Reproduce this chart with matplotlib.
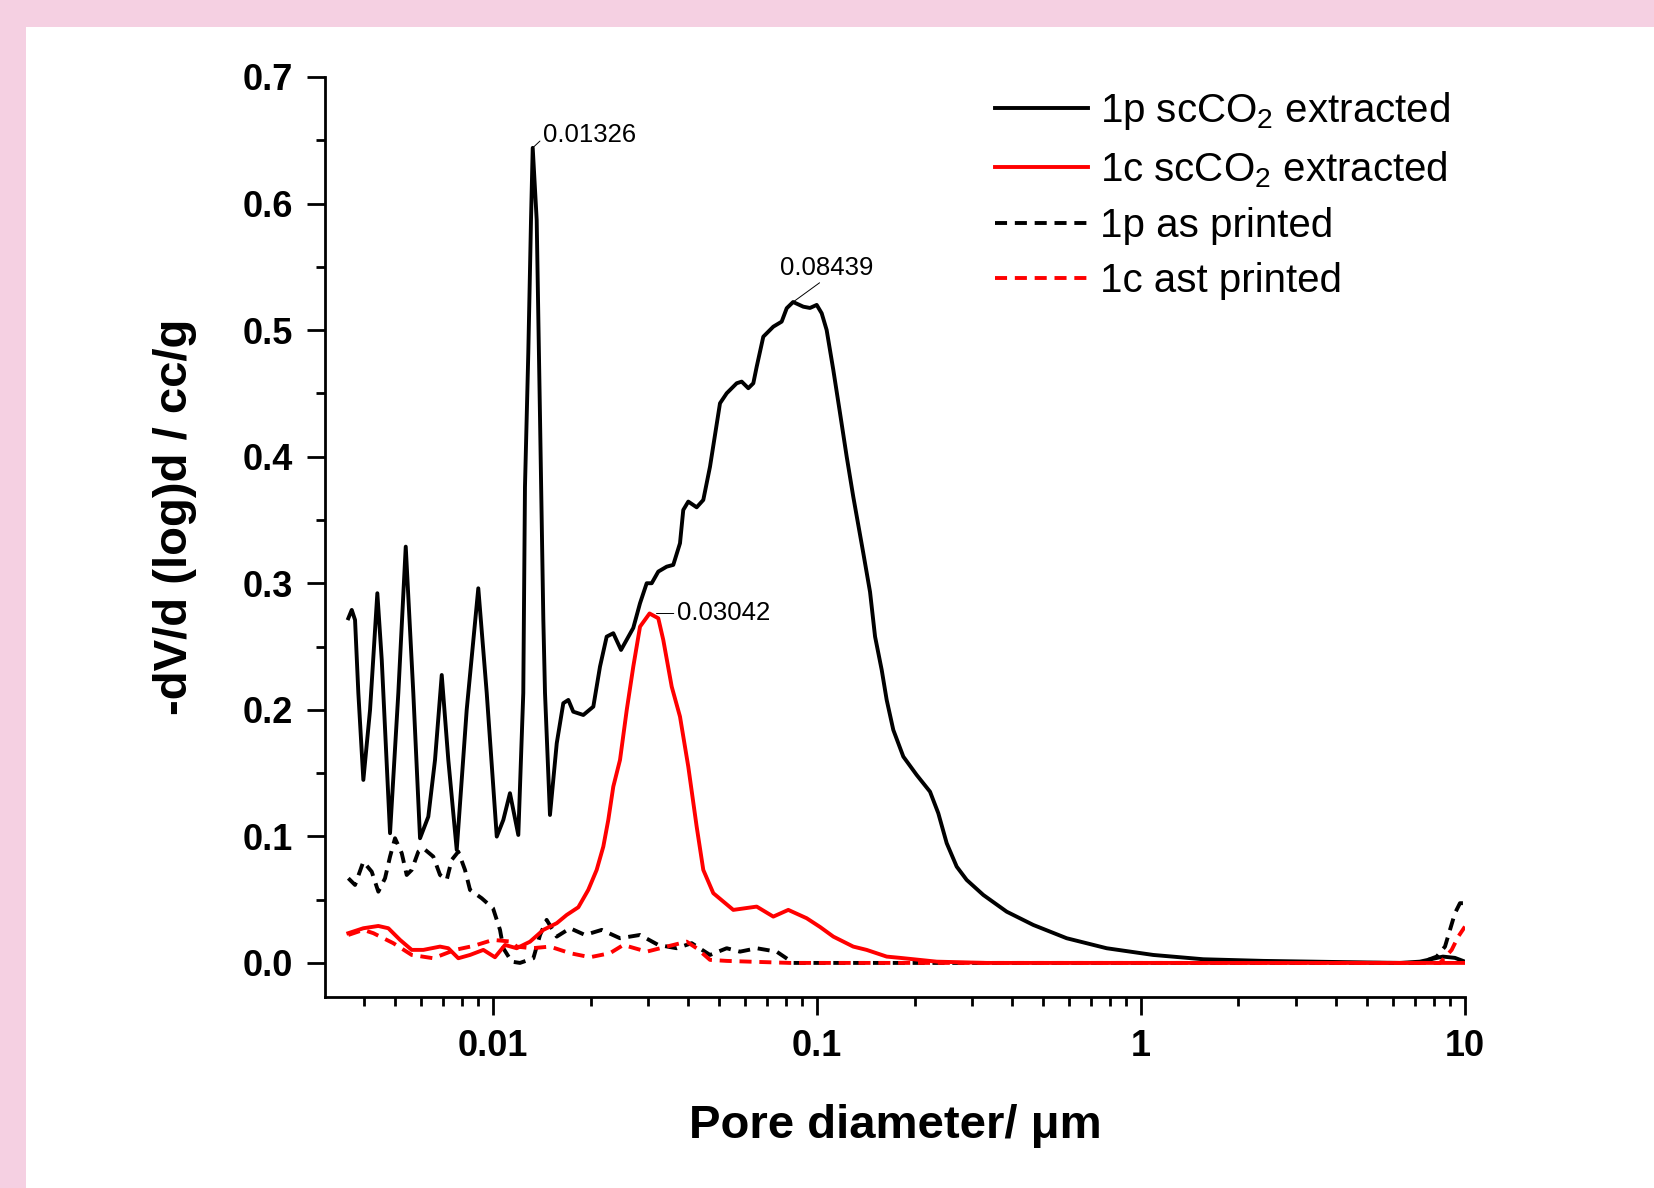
''' ########################### OVERVIEW ########################### '''
'''
Pore size distribution (MIP) of 1p / 1c parts, scCO2 extracted vs as printed
'''

''' ########################### IMPORT MODULES ########################### '''
import numpy as np
import matplotlib
matplotlib.use('Agg')
import matplotlib.pyplot as plt
from matplotlib.patches import Rectangle
from matplotlib.ticker import MultipleLocator, LogLocator, NullFormatter


''' ########################### DATA ########################### '''
# pore diameter (um) and -dV/d(log d) (cc/g)
d_1p_sc = [0.003576, 0.003664, 0.003751, 0.00384, 0.003979, 0.004173, 0.004395,
           0.004535, 0.00481, 0.005102, 0.005378, 0.005675, 0.005953, 0.006314,
           0.006622, 0.006946, 0.007278, 0.007727, 0.008294, 0.009007, 0.009563,
           0.01027, 0.01076, 0.01128, 0.01197, 0.0124, 0.01255, 0.01285, 0.0131,
           0.01326, 0.01364, 0.01397, 0.0143, 0.01447, 0.01499, 0.01573, 0.01648,
           0.01708, 0.01769, 0.019, 0.0204, 0.02139, 0.02243, 0.02351, 0.02484,
           0.0271, 0.02843, 0.02981, 0.03089, 0.03237, 0.03436, 0.03601, 0.03777,
           0.03866, 0.04006, 0.04252, 0.04457, 0.04675, 0.05019, 0.05264, 0.05651,
           0.05855, 0.06138, 0.0636, 0.06515, 0.06828, 0.0733, 0.0778, 0.08065,
           0.08439, 0.09073, 0.09515, 0.0998, 0.1034, 0.1071, 0.1123, 0.1178,
           0.1235, 0.1294, 0.139, 0.1458, 0.1511, 0.1584, 0.1641, 0.172, 0.1847,
           0.2031, 0.2233, 0.2368, 0.2514, 0.2699, 0.2897, 0.3261, 0.385, 0.4652,
           0.5898, 0.7837, 1.091, 1.557, 2.385, 3.83, 6.3, 7.26, 8.55, 9.31, 10.0]
v_1p_sc = [0.2723, 0.2789, 0.2710, 0.2133, 0.1446, 0.1999, 0.2921,
           0.2394, 0.1025, 0.2133, 0.3289, 0.2133, 0.0985, 0.1156,
           0.1604, 0.2275, 0.1604, 0.0893, 0.1999, 0.2960, 0.2133,
           0.0998, 0.1130, 0.1341, 0.1011, 0.2133, 0.3761, 0.4819, 0.587,
           0.644, 0.587, 0.429, 0.271, 0.2133, 0.1169, 0.1736, 0.2052,
           0.2078, 0.1985, 0.1959, 0.2025, 0.2341, 0.2578, 0.2605, 0.2473,
           0.2647, 0.2842, 0.300, 0.300, 0.3092, 0.3131, 0.3145, 0.3316,
           0.3579, 0.3645, 0.360, 0.3658, 0.3921, 0.4422, 0.4501, 0.458,
           0.4593, 0.4541, 0.458, 0.4711, 0.4948, 0.5027, 0.5067, 0.5173,
           0.5222, 0.5185, 0.5175, 0.5199, 0.5133, 0.5001, 0.4685, 0.4343,
           0.400, 0.3684, 0.3237, 0.2931, 0.2578, 0.2315, 0.2078, 0.1841, 0.163,
           0.1485, 0.1353, 0.1183, 0.0946, 0.0761, 0.0656, 0.0537, 0.0405, 0.030,
           0.0195, 0.0116, 0.0063, 0.0029, 0.0016, 0.0008, 0.0, 0.001, 0.005, 0.004, 0.001]

d_1c_sc = [0.003576, 0.003979, 0.004426, 0.004753, 0.005164, 0.005612, 0.006095,
           0.006862, 0.007278, 0.007815, 0.008492, 0.009335, 0.01014, 0.01089,
           0.01183, 0.01301, 0.0143, 0.01573, 0.01688, 0.01834, 0.01968, 0.02089,
           0.0219, 0.02269, 0.02351, 0.02466, 0.02587, 0.0271, 0.02843, 0.03042,
           0.03237, 0.03354, 0.03561, 0.03777, 0.04006, 0.04252, 0.04457, 0.04786,
           0.05516, 0.06515, 0.0733, 0.08155, 0.09294, 0.1022, 0.1123, 0.1294,
           0.1423, 0.1641, 0.1804, 0.2342, 0.334, 10.0]
v_1c_sc = [0.0235, 0.0274, 0.0292, 0.0274, 0.0182, 0.0103, 0.0103,
           0.0129, 0.0116, 0.0037, 0.0063, 0.0103, 0.0045, 0.0142,
           0.0116, 0.0168, 0.0261, 0.0314, 0.0379, 0.044, 0.0577, 0.0735,
           0.0919, 0.113, 0.1393, 0.1604, 0.1999, 0.2341, 0.2657, 0.2761,
           0.2723, 0.2552, 0.2183, 0.1946, 0.1551, 0.1077, 0.0735, 0.0551,
           0.0419, 0.0445, 0.0366, 0.0419, 0.0353, 0.0284, 0.0208, 0.0129,
           0.0103, 0.005, 0.004, 0.001, 0.0, 0.0]

d_1p_ap = [0.003576, 0.003751, 0.003979, 0.004223, 0.004426, 0.004642, 0.00481,
           0.004984, 0.005227, 0.005415, 0.005612, 0.005881, 0.006095, 0.006542,
           0.006862, 0.007196, 0.007456, 0.007815, 0.008195, 0.008492, 0.009228,
           0.01, 0.01051, 0.01076, 0.01142, 0.01211, 0.01332, 0.01397, 0.01464,
           0.01573, 0.01729, 0.01923, 0.02165, 0.02466, 0.02843, 0.03237, 0.0369,
           0.04104, 0.04675, 0.05264, 0.05784, 0.06515, 0.07509, 0.0845, 7.26,
           8.18, 8.678, 8.99, 9.314, 9.652, 10.0]
v_1p_ap = [0.0669, 0.0616, 0.080, 0.0721, 0.0563, 0.0669, 0.084,
           0.0985, 0.0867, 0.0695, 0.0735, 0.0879, 0.0906, 0.084,
           0.0695, 0.0656, 0.0814, 0.0879, 0.0735, 0.0577, 0.0511,
           0.0432, 0.0261, 0.0116, 0.001, 0.0, 0.0037, 0.0221, 0.034,
           0.0208, 0.0274, 0.0221, 0.0261, 0.0195, 0.0221, 0.0142, 0.0116,
           0.0156, 0.0063, 0.0116, 0.0089, 0.0116, 0.0089, 0.0, 0.0,
           0.005, 0.0129, 0.0261, 0.0393, 0.0472, 0.0472]

d_1c_ap = [0.003576, 0.003979, 0.004272, 0.004923, 0.005612, 0.006542, 0.007633,
           0.008695, 0.01, 0.01142, 0.01183, 0.01317, 0.01499, 0.01729, 0.01993,
           0.02296, 0.02525, 0.02981, 0.03436, 0.03961, 0.04252, 0.04675, 0.05264,
           0.06212, 0.08255, 8.373, 9.10, 9.535, 10.0]
v_1c_ap = [0.0221, 0.0261, 0.0235, 0.0156, 0.0063, 0.0037, 0.0103,
           0.0134, 0.0182, 0.0168, 0.0129, 0.0116, 0.0129, 0.0077, 0.0045,
           0.0077, 0.0142, 0.0089, 0.0129, 0.0168, 0.0116, 0.0024, 0.0016,
           0.001, 0.0, 0.0, 0.0103, 0.0208, 0.0287]

leg_ents = ['1p scCO$_2$ extracted', '1c scCO$_2$ extracted',
            '1p as printed', '1c ast printed']
peaks = [(0.01326, 0.644), (0.08439, 0.5222), (0.03042, 0.2761)]
peak_labs = ['0.01326', '0.08439', '0.03042']

x_ticks = [0.01, 0.1, 1, 10]
x_tick_labs = ['0.01', '0.1', '1', '10']
y_ticks = [0.0, 0.1, 0.2, 0.3, 0.4, 0.5, 0.6, 0.7]


''' ########################### USER-DEFINED ########################### '''
fig_w, fig_h, dots = 16.54, 11.88, 100
pink = '#f5d0e2'
lw = 2.8
dash = (3.1, 2.0)
x_lims, y_lims = [0.00303, 10], [-0.0269, 0.7]
x_lab = 'Pore diameter/ \u03bcm'
y_lab = '-dV/d (log)d / cc/g'

plt.rcParams['font.family'] = ['Liberation Sans', 'DejaVu Sans']
plt.rcParams['mathtext.fontset'] = 'custom'
plt.rcParams['mathtext.rm'] = 'Liberation Sans'
plt.rcParams['mathtext.default'] = 'regular'


''' ########################### MAIN SCRIPT ########################### '''
fig = plt.figure(figsize=(fig_w, fig_h), dpi=dots)
fig.patch.set_facecolor('white')
# pink frame strips (top and left)
fig.patches.append(Rectangle((0, 1 - 27 / 1188), 1, 27 / 1188, transform=fig.transFigure,
                             facecolor=pink, edgecolor='none', zorder=0))
fig.patches.append(Rectangle((0, 0), 26 / 1654, 1, transform=fig.transFigure,
                             facecolor=pink, edgecolor='none', zorder=0))

ax0 = fig.add_axes([0.1965, 0.1608, 0.6892, 0.7744])

ax0.plot(d_1p_sc, v_1p_sc, color='black', lw=lw, label=leg_ents[0])
ax0.plot(d_1c_sc, v_1c_sc, color='red', lw=lw, label=leg_ents[1], zorder=3)
ax0.plot(d_1p_ap, v_1p_ap, color='black', lw=lw, dashes=dash, label=leg_ents[2])
ax0.plot(d_1c_ap, v_1c_ap, color='red', lw=lw, dashes=dash, label=leg_ents[3])

# peak labels with thin leader lines
offs = [(10, 13), (34, 34), (27, 0)]
has = ['left', 'center', 'left']
rels = [(0, 0.35), (0.46, 0), (0, 0.5)]
shr = [0, 0, 5]
for i in range(len(peaks)):
    ax0.annotate(peak_labs[i], xy=peaks[i], xytext=offs[i], textcoords='offset pixels',
                 ha=has[i], va='center', fontsize=18.5,
                 arrowprops=dict(arrowstyle='-', color='black', lw=0.7,
                                 shrinkA=0, shrinkB=shr[i], relpos=rels[i]))

ax0.set_xscale('log')
ax0.set_xlim(x_lims)
ax0.set_ylim(y_lims)
ax0.set_xticks(x_ticks)
ax0.set_xticklabels(x_tick_labs)
ax0.xaxis.set_minor_locator(LogLocator(base=10, subs=np.arange(2, 10)))
ax0.xaxis.set_minor_formatter(NullFormatter())
ax0.set_yticks(y_ticks)
ax0.set_yticklabels(['%.1f' % t for t in y_ticks])
ax0.yaxis.set_minor_locator(MultipleLocator(0.05))

for side in ['top', 'right']:
    ax0.spines[side].set_visible(False)
for side in ['left', 'bottom']:
    ax0.spines[side].set_linewidth(2.0)

ax0.tick_params(which='major', direction='out', length=13, width=2.0, pad=10)
ax0.tick_params(which='minor', direction='out', length=6.5, width=2.0)
for lab in ax0.get_xticklabels() + ax0.get_yticklabels():
    lab.set_fontsize(26)
    lab.set_fontweight('bold')

ax0.set_xlabel(x_lab, fontsize=34, fontweight='bold')
ax0.set_ylabel(y_lab, fontsize=34, fontweight='bold')
ax0.xaxis.set_label_coords(0.5004, -0.116)
ax0.yaxis.set_label_coords(-0.112, 0.5217)

ax0.legend(loc='upper right', bbox_to_anchor=(0.987, 0.986), frameon=False,
           fontsize=29, handlelength=2.3, handletextpad=0.3, labelspacing=0.43,
           borderpad=0, borderaxespad=0)

fig.savefig('out.png', dpi=dots)
